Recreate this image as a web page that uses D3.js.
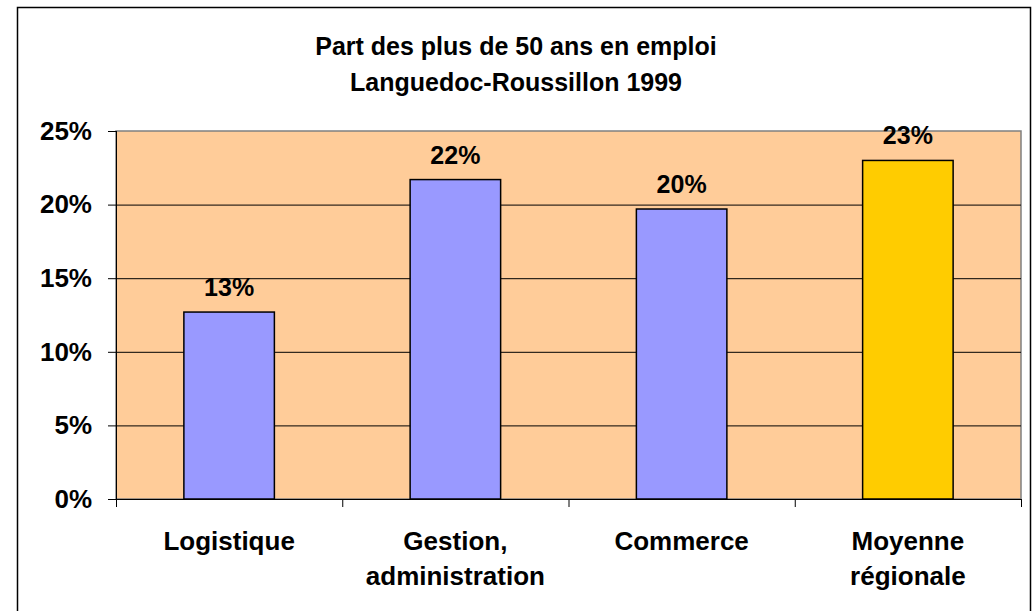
<!DOCTYPE html>
<html>
<head>
<meta charset="utf-8">
<script src="https://cdn.jsdelivr.net/npm/d3@7"></script>
<style>
  body { margin: 0; background: #fff; }
  text { font-family: "Liberation Sans", Arial, sans-serif; font-weight: bold; fill: #000; }
</style>
</head>
<body>
<div id="chart"></div>
<script>
// Chart data
const categories = [["Logistique"], ["Gestion,", "administration"], ["Commerce"], ["Moyenne", "régionale"]];
const values = [12.7, 21.7, 19.7, 23.0];
const valueLabels = ["13%", "22%", "20%", "23%"];
const barColors = ["#9999FF", "#9999FF", "#9999FF", "#FFCC00"];
const yTicks = [0, 5, 10, 15, 20, 25];
const titleLines = ["Part des plus de 50 ans en emploi", "Languedoc-Roussillon 1999"];

// Dimensions
const width = 1035;
const height = 611;
const plotLeft = 116;
const plotRight = 1021;
const plotTop = 131;
const plotBottom = 499;
const fontSize = 25;
const axisFontSize = 26;

const svg = d3.select("#chart")
  .append("svg")
  .attr("width", width)
  .attr("height", height)
  .attr("viewBox", [0, 0, width, height]);

// Outer frame
svg.append("rect")
  .attr("x", 17.5)
  .attr("y", 7.5)
  .attr("width", 1013)
  .attr("height", 640)
  .attr("fill", "#fff")
  .attr("stroke", "#000")
  .attr("stroke-width", 1.5);

const x = d3.scaleBand()
  .domain(d3.range(categories.length))
  .range([plotLeft, plotRight])
  .paddingInner(0.6)
  .paddingOuter(0.3);

const xOuter = d3.scaleBand()
  .domain(d3.range(categories.length))
  .range([plotLeft, plotRight]);

const y = d3.scaleLinear()
  .domain([0, 25])
  .range([plotBottom, plotTop]);

// Plot background
svg.append("rect")
  .attr("x", plotLeft)
  .attr("y", plotTop)
  .attr("width", plotRight - plotLeft)
  .attr("height", plotBottom - plotTop)
  .attr("fill", "#FFCC99")
  .attr("stroke", "#808080")
  .attr("stroke-width", 1.5);

// Horizontal grid lines
svg.append("g")
  .selectAll("line")
  .data(yTicks.filter(d => d > 0 && d < 25))
  .join("line")
  .attr("x1", plotLeft)
  .attr("x2", plotRight)
  .attr("y1", d => y(d) + 0.5)
  .attr("y2", d => y(d) + 0.5)
  .attr("stroke", "#000")
  .attr("stroke-width", 1);

// Bars
svg.append("g")
  .selectAll("rect")
  .data(values)
  .join("rect")
  .attr("x", (d, i) => x(i))
  .attr("y", d => y(d))
  .attr("width", x.bandwidth())
  .attr("height", d => y(0) - y(d))
  .attr("fill", (d, i) => barColors[i])
  .attr("stroke", "#000")
  .attr("stroke-width", 1.5);

// Value labels
svg.append("g")
  .selectAll("text")
  .data(values)
  .join("text")
  .attr("x", (d, i) => x(i) + x.bandwidth() / 2)
  .attr("y", d => y(d) - 16)
  .attr("text-anchor", "middle")
  .style("font-size", fontSize + "px")
  .text((d, i) => valueLabels[i]);

// Y axis
const yAxis = svg.append("g")
  .attr("transform", `translate(${plotLeft},0)`)
  .call(d3.axisLeft(y)
    .tickValues(yTicks)
    .tickSize(8)
    .tickPadding(16)
    .tickFormat(d => d + "%"));
yAxis.select(".domain").attr("d", `M0.5,${plotTop}V${plotBottom + 8}`).attr("stroke", "#000");
yAxis.selectAll(".tick line").attr("stroke", "#000");
yAxis.selectAll(".tick text")
  .style("font-size", axisFontSize + "px")
  .style("font-family", "'Liberation Sans', Arial, sans-serif")
  .style("font-weight", "bold")
  .attr("fill", "#000");

// X axis
const xAxis = svg.append("g")
  .attr("transform", `translate(0,${plotBottom})`);
xAxis.append("line")
  .attr("x1", plotLeft)
  .attr("x2", plotRight)
  .attr("y1", 0.5)
  .attr("y2", 0.5)
  .attr("stroke", "#000");
xAxis.selectAll("line.tick")
  .data(d3.range(categories.length + 1))
  .join("line")
  .attr("class", "tick")
  .attr("x1", i => i < categories.length ? xOuter(i) + 0.5 : plotRight + 0.5)
  .attr("x2", i => i < categories.length ? xOuter(i) + 0.5 : plotRight + 0.5)
  .attr("y1", 0)
  .attr("y2", 8)
  .attr("stroke", "#000");

xAxis.selectAll("text.cat")
  .data(categories)
  .join("text")
  .attr("class", "cat")
  .attr("x", (d, i) => xOuter(i) + xOuter.bandwidth() / 2)
  .attr("y", 51)
  .attr("text-anchor", "middle")
  .style("font-size", axisFontSize + "px")
  .selectAll("tspan")
  .data(d => d)
  .join("tspan")
  .attr("x", function() { return this.parentNode.getAttribute("x"); })
  .attr("dy", (d, i) => i === 0 ? 0 : 35)
  .text(d => d);

// Title
svg.append("text")
  .attr("y", 55)
  .attr("text-anchor", "middle")
  .style("font-size", fontSize + "px")
  .selectAll("tspan")
  .data(titleLines)
  .join("tspan")
  .attr("x", 516)
  .attr("dy", (d, i) => i === 0 ? 0 : 36)
  .text(d => d);
</script>
</body>
</html>
